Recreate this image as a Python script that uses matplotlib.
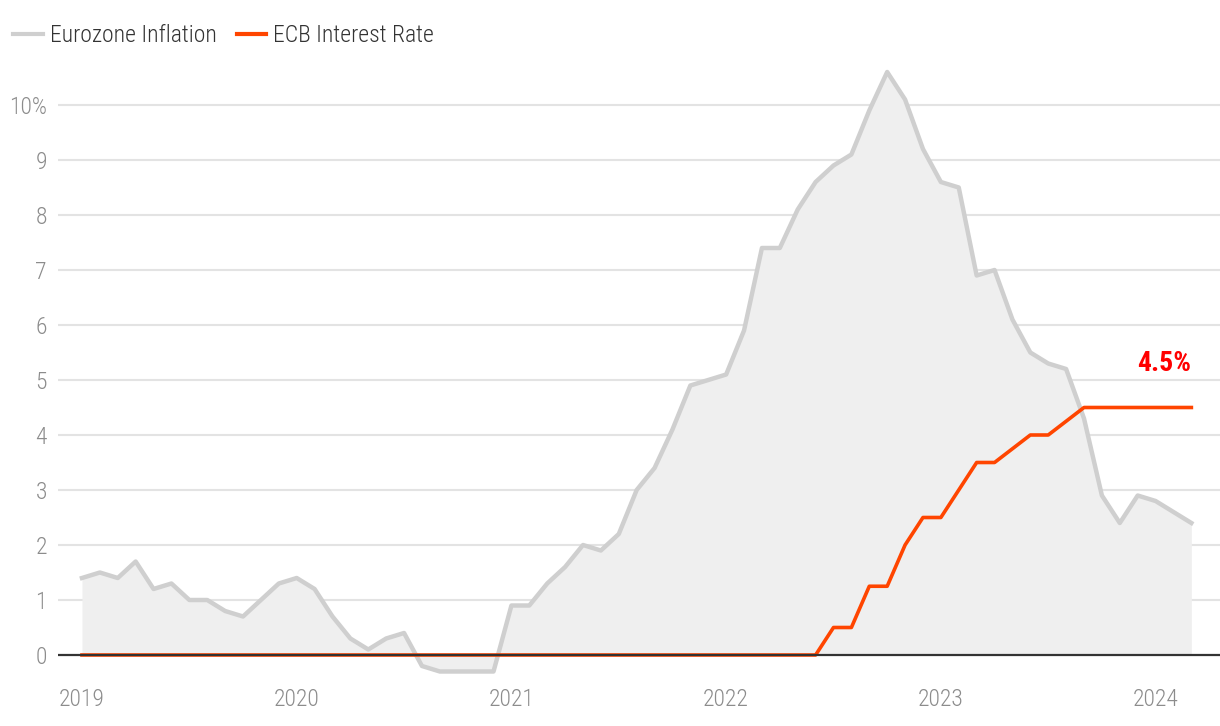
import matplotlib
matplotlib.use("Agg")
import matplotlib.pyplot as plt
from matplotlib.lines import Line2D
import numpy as np

plt.rcParams['font.family'] = ['Roboto Condensed', 'Liberation Sans Narrow', 'DejaVu Sans']

months = list(range(63))  # Jan 2019 .. Mar 2024
inflation = [1.4, 1.5, 1.4, 1.7, 1.2, 1.3, 1.0, 1.0, 0.8, 0.7, 1.0, 1.3,
             1.4, 1.2, 0.7, 0.3, 0.1, 0.3, 0.4, -0.2, -0.3, -0.3, -0.3, -0.3,
             0.9, 0.9, 1.3, 1.6, 2.0, 1.9, 2.2, 3.0, 3.4, 4.1, 4.9, 5.0,
             5.1, 5.9, 7.4, 7.4, 8.1, 8.6, 8.9, 9.1, 9.9, 10.6, 10.1, 9.2,
             8.6, 8.5, 6.9, 7.0, 6.1, 5.5, 5.3, 5.2, 4.3, 2.9, 2.4, 2.9,
             2.8, 2.6, 2.4]
ecb_rate = [0.0] * 42 + [0.5, 0.5, 1.25, 1.25, 2.0, 2.5,
                         2.5, 3.0, 3.5, 3.5, 3.75, 4.0, 4.0, 4.25, 4.5, 4.5, 4.5, 4.5,
                         4.5, 4.5, 4.5]
year_ticks = [0, 12, 24, 36, 48, 60]
year_labels = ['2019', '2020', '2021', '2022', '2023', '2024']
y_ticks = list(range(0, 11))
y_labels = [str(v) for v in y_ticks[:-1]] + ['10%']

fig = plt.figure(figsize=(12.2, 7.26), dpi=100)
ax = fig.add_axes([58/1220, 1 - 679.75/726, 1 - 58/1220, (679.75 - 63.75)/726])

ax.fill_between(months, inflation, 0, color='#efefef', lw=0, zorder=1)
for v in y_ticks[1:]:
    ax.axhline(v, color='#e3e3e3', lw=1.5, zorder=0.5)
ax.plot(months, inflation, color='#cfcfcf', lw=3.2, zorder=3)
ax.plot(months, ecb_rate, color='#ff4500', lw=2.6, zorder=4)
ax.axhline(0, color='#333333', lw=1.6, zorder=5)

ax.set_xlim(-1.34, 63.6)
ax.set_ylim(-0.45, 10.75)
ax.set_xticks(year_ticks)
ax.set_xticklabels(year_labels, fontweight='light')
ax.set_yticks(y_ticks)
ax.set_yticklabels(y_labels, fontweight='light')
ax.tick_params(axis='both', length=0, labelsize=17, labelcolor='#8c8c8c')
ax.tick_params(axis='x', pad=6)
ax.tick_params(axis='y', pad=8)
for s in ax.spines.values():
    s.set_visible(False)

ax.annotate('4.5%', xy=(months[-1], ecb_rate[-1]), xytext=(0, 32),
            textcoords='offset points', ha='right', va='center',
            color='#ff0000', fontsize=20, fontweight='bold')

handles = [Line2D([], [], color='#cfcfcf', lw=3.0),
           Line2D([], [], color='#ff4500', lw=3.0)]
fig.legend(handles, ['Eurozone Inflation', 'ECB Interest Rate'],
           loc='upper left', bbox_to_anchor=(0.0, 0.985), ncol=2, frameon=False,
           prop={'size': 17, 'weight': 'light'}, labelcolor='#333333',
           handlelength=1.25, handletextpad=0.3, columnspacing=0.85,
           borderaxespad=0.15, borderpad=0.4)

fig.savefig('out.png', dpi=100)
